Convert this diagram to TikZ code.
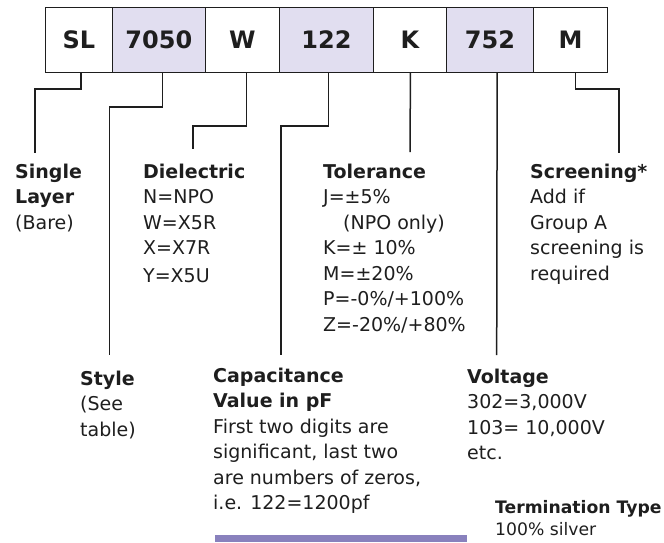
\documentclass[tikz,border=0pt]{standalone}
\usepackage{fontspec}
\setmainfont{DejaVu Sans}
\definecolor{lav}{RGB}{225,222,240}
\definecolor{barpurple}{RGB}{137,129,189}
\definecolor{ink}{RGB}{30,30,30}
\newcommand\lbllines[1]{\begin{tabular}[t]{@{}l@{}}#1\end{tabular}}
\tikzset{
  codebox/.style={draw=ink, line width=0.9pt, minimum height=65pt, inner sep=0pt, anchor=north west,
    font=\fontsize{24}{28}\selectfont\bfseries, text=ink},
  shaded/.style={fill=lav},
  conn/.style={draw=ink, line width=1.5pt},
  lbl/.style={anchor=base west, inner sep=0pt, text=ink, font=\fontsize{19}{25.5}\selectfont},
  smalllbl/.style={anchor=base west, inner sep=0pt, text=ink, font=\fontsize{17.2}{22}\selectfont},
}
\begin{document}
\begin{tikzpicture}[x=1pt,y=-1pt]
\useasboundingbox (0,0) rectangle (664,542);
% code boxes
\node[codebox, minimum width=66.7pt] (sl) at (45,6.7) {SL};
\node[codebox, shaded, minimum width=93.3pt] (c7050) at (111.7,6.7) {7050};
\node[codebox, minimum width=74pt] (w) at (205,6.7) {W};
\node[codebox, shaded, minimum width=94pt] (c122) at (279,6.7) {122};
\node[codebox, minimum width=73pt] (k) at (373,6.7) {K};
\node[codebox, shaded, minimum width=87pt] (c752) at (446,6.7) {752};
\node[codebox, minimum width=74pt] (m) at (533,6.7) {M};
% free ends
\coordinate (e1) at (35,153);
\coordinate (e2) at (109.5,355);
\coordinate (e3) at (193,149);
\coordinate (e4) at (281,355);
\coordinate (e5) at (410,152);
\coordinate (e6) at (496.7,355);
\coordinate (e7) at (619,153);
% connectors
\draw[conn] ([xshift=2.4pt]sl.south) |- (35,89) -- (e1);
\draw[conn] ([xshift=3.7pt]c7050.south) |- (109.5,107) -- (e2);
\draw[conn] ([xshift=4pt]w.south) |- (193,126) -- (e3);
\draw[conn] ([xshift=2pt]c122.south) |- (281,126) -- (e4);
\draw[conn] ([xshift=0.5pt]k.south) -- (e5);
\draw[conn] ([xshift=7.2pt]c752.south) -- (e6);
\draw[conn] ([xshift=5pt]m.south) |- (619,89) -- (e7);
% labels
\node[lbl] (single) at (15,178) {\lbllines{\textbf{Single}\\\textbf{Layer}\\(Bare)}};
\node[lbl] (diel) at (143,178) {\lbllines{\textbf{Dielectric}\\N=NPO\\W=X5R\\X=X7R\\[2pt]Y=X5U}};
\node[lbl] (tol) at (323,178) {\lbllines{\textbf{Tolerance}\\J=±5\%\\\hspace{20pt}(NPO only)\\K=± 10\%\\M=±20\%\\P=-0\%/+100\%\\Z=-20\%/+80\%}};
\node[lbl] (scr) at (530,178) {\lbllines{\textbf{Screening*}\\Add if\\Group A\\screening is\\required}};
\node[lbl] (style) at (80,385) {\lbllines{\textbf{Style}\\(See\\table)}};
\node[lbl] (cap) at (213,382) {\lbllines{\textbf{Capacitance}\\\textbf{Value in pF}\\First two digits are\\significant, last two\\are numbers of zeros,\\i.e. 122=1200pf}};
\node[lbl] (volt) at (467,383) {\lbllines{\textbf{Voltage}\\302=3,000V\\103= 10,000V\\etc.}};
\node[smalllbl] (term) at (495,513) {\lbllines{\textbf{Termination Type}\\100\% silver}};
% purple bar
\fill[barpurple] (215,535) rectangle (467,542);
\end{tikzpicture}
\end{document}
